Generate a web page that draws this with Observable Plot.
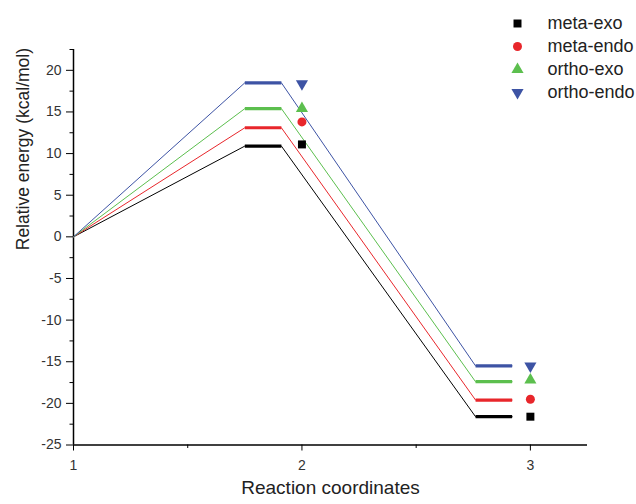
<!DOCTYPE html>
<html>
<head>
<meta charset="utf-8">
<script src="https://cdn.jsdelivr.net/npm/d3@7"></script>
<script src="https://cdn.jsdelivr.net/npm/@observablehq/plot@0.6"></script>
<style>
  html, body { margin: 0; padding: 0; background: #fff; }
  #wrap { position: relative; width: 636px; height: 504px; font-family: "Liberation Sans", Arial, sans-serif; }
  #legend { position: absolute; left: 500px; top: 0px; }
</style>
</head>
<body>
<div id="wrap"><div id="chart"></div><div id="legend"></div></div>
<script>
// ---- data ----
const series = ["meta-exo", "meta-endo", "ortho-exo", "ortho-endo"];
const colors = ["#000000", "#e8262b", "#5cbf4e", "#3d53a4"];
const reactantLevel = [0, 0, 0, 0];
const tsLevel = [10.9, 13.1, 15.4, 18.5];          // TS plateau (lines)
const productLevel = [-21.6, -19.6, -17.4, -15.5];  // product plateau (lines)
const tsMarker = [11.1, 13.8, 15.4, 18.4];          // markers at x = 2
const productMarker = [-21.6, -19.5, -17.2, -15.5]; // markers at x = 3
const coords = [1, 2, 3];
const plateauStart = [1.75, 2.76];
const plateauEnd = [1.91, 2.92];
const yMajorTicks = [-25, -20, -15, -10, -5, 0, 5, 10, 15, 20];
const yMinorTicks = [-22.5, -17.5, -12.5, -7.5, -2.5, 2.5, 7.5, 12.5, 17.5, 22.5];
const xMajorTicks = [1, 2, 3];
const xMinorTicks = [1.5, 2.5];

// ---- tables built from the arrays ----
const pathRows = [];
const plateauRows = [];
const markerRows = [];
series.forEach((s, i) => {
  pathRows.push({series: s, x: coords[0], y: reactantLevel[i]});
  pathRows.push({series: s, x: plateauStart[0], y: tsLevel[i]});
  pathRows.push({series: s, x: plateauEnd[0], y: tsLevel[i]});
  pathRows.push({series: s, x: plateauStart[1], y: productLevel[i]});
  pathRows.push({series: s, x: plateauEnd[1], y: productLevel[i]});
  plateauRows.push({series: s, x1: plateauStart[0], x2: plateauEnd[0], y: tsLevel[i]});
  plateauRows.push({series: s, x1: plateauStart[1], x2: plateauEnd[1], y: productLevel[i]});
  markerRows.push({series: s, x: coords[1], y: tsMarker[i]});
  markerRows.push({series: s, x: coords[2], y: productMarker[i]});
});

const sqrt3 = Math.sqrt(3);
const triangleDown = {
  draw(context, size) {
    const y = -Math.sqrt(size / (sqrt3 * 3));
    context.moveTo(0, -y * 2);
    context.lineTo(-sqrt3 * y, y);
    context.lineTo(sqrt3 * y, y);
    context.closePath();
  }
};
const symbols = ["square", "circle", "triangle", triangleDown];

const font = "'Liberation Sans', Arial, sans-serif";

const chart = Plot.plot({
  width: 636,
  height: 504,
  marginLeft: 73,
  marginRight: 49,
  marginTop: 49,
  marginBottom: 59.5,
  style: {fontFamily: font, background: "#fff"},
  x: {domain: [1, 3.25], axis: null},
  y: {domain: [-25, 22.5], axis: null},
  color: {domain: series, range: colors},
  marks: [
    Plot.axisY(yMajorTicks, {tickSize: 7, tickPadding: 5, fontSize: 14, color: "#333", stroke: "#000", tickFormat: d => String(d), label: null}),
    Plot.axisY(yMinorTicks, {tickSize: 3.5, stroke: "#000", tickFormat: () => "", label: null}),
    Plot.axisX(xMajorTicks, {tickSize: 6, tickPadding: 9, fontSize: 14, color: "#333", stroke: "#000", tickFormat: d => String(d), label: null}),
    Plot.axisX(xMinorTicks, {tickSize: 3.5, stroke: "#000", tickFormat: () => "", label: null}),
    Plot.ruleX([1], {stroke: "#000", strokeWidth: 1.5}),
    Plot.ruleY([-25], {stroke: "#000", strokeWidth: 1.5}),
    Plot.line(pathRows, {x: "x", y: "y", z: "series", stroke: "series", strokeWidth: 1}),
    Plot.link(plateauRows, {x1: "x1", x2: "x2", y1: "y", y2: "y", stroke: "series", strokeWidth: 3.2}),
    ...series.map((s, i) => Plot.dot(markerRows.filter(d => d.series === s), {
      x: "x", y: "y", symbol: symbols[i], fill: colors[i], stroke: "none", r: 4.5
    })),
    Plot.text(["Reaction coordinates"], {frameAnchor: "bottom", dy: 49, fontSize: 19, fill: "#222", text: d => d}),
    Plot.text(["Relative energy (kcal/mol)"], {frameAnchor: "left", dx: -50.5, dy: 3, rotate: -90, fontSize: 17.5, fill: "#222", text: d => d})
  ]
});
document.getElementById("chart").appendChild(chart);

const legend = Plot.plot({
  width: 136,
  height: 110,
  margin: 0,
  style: {fontFamily: font, background: "transparent"},
  x: {axis: null},
  y: {type: "point", domain: series, range: [22, 92], padding: 0, axis: null},
  marks: [
    ...series.map((s, i) => Plot.dot([s], {y: d => d, frameAnchor: "left", dx: 17, symbol: symbols[i], fill: colors[i], stroke: "none", r: 4.5})),
    Plot.text(series, {y: d => d, text: d => d, frameAnchor: "left", dx: 47, textAnchor: "start", fontSize: 18, fill: "#222"})
  ]
});
document.getElementById("legend").appendChild(legend);
</script>
</body>
</html>
